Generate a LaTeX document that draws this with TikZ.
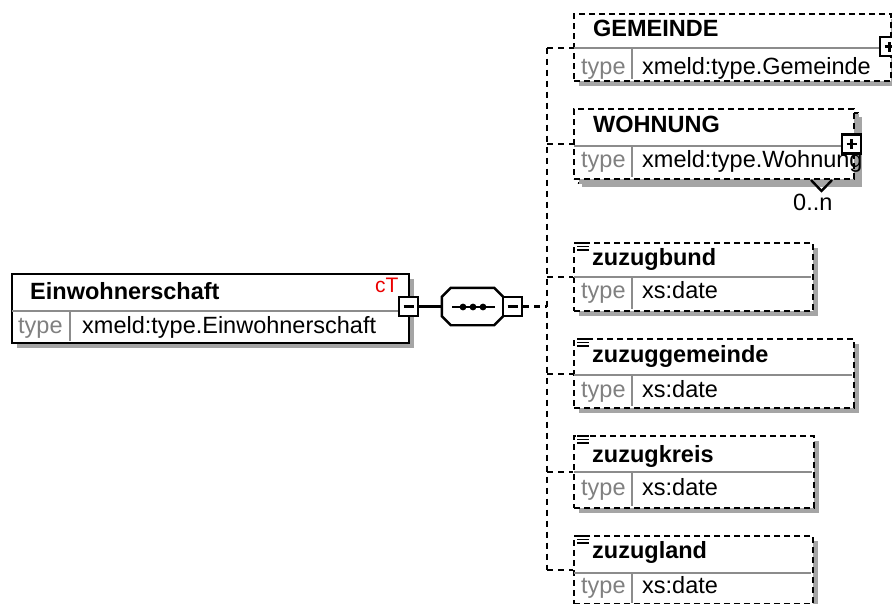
\documentclass[tikz,border=0pt]{standalone}
\usepackage{fontspec}
\setmainfont{Liberation Sans}
\usetikzlibrary{shadows}
\definecolor{shd}{RGB}{165,165,165}
\definecolor{grl}{RGB}{140,140,140}
\definecolor{typ}{RGB}{128,128,128}
\definecolor{ctred}{RGB}{235,0,0}
\begin{document}
\begin{tikzpicture}[x=1pt,y=-1pt,
  elbox/.style={draw=black, line width=2.4pt, fill=white, rectangle, inner sep=0pt, anchor=north west,
    general shadow={fill=shd, shadow xshift=5pt, shadow yshift=-5pt}},
  optbox/.style={elbox, dash pattern=on 6pt off 4pt},
  backbox/.style={draw=black, line width=2.4pt, fill=white, rectangle, inner sep=0pt, anchor=north west,
    dash pattern=on 6pt off 4pt, general shadow={fill=shd, shadow xshift=4pt, shadow yshift=-4pt}},
  divline/.style={draw=grl, line width=2.2pt},
  conn/.style={line width=2.4pt},
  dconn/.style={line width=2.4pt, dash pattern=on 6pt off 5pt},
  pmbox/.style={draw=black, line width=2.4pt, fill=white, rectangle, minimum size=19pt, inner sep=0pt},
  ttl/.style={anchor=base west, inner sep=0pt, font=\bfseries\fontsize{23.5}{28}\selectfont},
  tlab/.style={anchor=base west, inner sep=0pt, text=typ, font=\fontsize{23.5}{28}\selectfont},
  tval/.style={anchor=base west, inner sep=0pt, font=\fontsize{23.5}{28}\selectfont},
  small/.style={anchor=base west, inner sep=0pt, font=\fontsize{21}{24}\selectfont},
  icon/.style={line width=1.6pt}
]
\useasboundingbox (0,0) rectangle (892,603);

% ---------- Einwohnerschaft ----------
\node[elbox, minimum width=397pt, minimum height=69pt] (ein) at (11,273) {};
\draw[divline] (12,311) -- (407,311);
\draw[divline] (70,312) -- (70,341);
\node[ttl] (einname) at (30,299) {Einwohnerschaft};
\node[small, text=ctred] (ct) at (375,292) {cT};
\node[tlab] (eintype) at (18,333) {type};
\node[tval] (einval) at (82,333) {xmeld:type.Einwohnerschaft};
\node[pmbox] (einminus) at (408.5,306.5) {};
\draw[line width=2.4pt] ([xshift=-5pt]einminus.center) -- ([xshift=5pt]einminus.center);

% ---------- sequence compositor ----------
\node[rectangle, minimum width=61pt, minimum height=37pt, inner sep=0pt] (seq) at (472.5,306.5) {};
\fill[shd, shift={(5,5)}] ([xshift=9pt]seq.north west) -- ([xshift=-9pt]seq.north east)
  -- ([yshift=-9pt]seq.north east) -- ([yshift=9pt]seq.south east) -- ([xshift=-9pt]seq.south east)
  -- ([xshift=9pt]seq.south west) -- ([yshift=9pt]seq.south west) -- ([yshift=-9pt]seq.north west) -- cycle;
\draw[line width=2.4pt, fill=white] ([xshift=9pt]seq.north west) -- ([xshift=-9pt]seq.north east)
  -- ([yshift=-9pt]seq.north east) -- ([yshift=9pt]seq.south east) -- ([xshift=-9pt]seq.south east)
  -- ([xshift=9pt]seq.south west) -- ([yshift=9pt]seq.south west) -- ([yshift=-9pt]seq.north west) -- cycle;
\draw[line width=2.4pt] (452,307) -- (495,307);
\fill (463,307) circle (3.4pt) (473,307) circle (3.4pt) (483,307) circle (3.4pt);
\node[pmbox] (seqminus) at (512.5,306.5) {};
\draw[line width=2.4pt] ([xshift=-5pt]seqminus.center) -- ([xshift=5pt]seqminus.center);
\draw[conn] (einminus.east) -- (seq.west);

% ---------- GEMEINDE ----------
\node[optbox, minimum width=317pt, minimum height=67pt] (gem) at (573,13) {};
\draw[divline] (574,48) -- (889,48);
\draw[divline] (632,49) -- (632,79);
\node[ttl] (gemname) at (593,36) {GEMEINDE};
\node[tlab] (gemtype) at (581,74) {type};
\node[tval] (gemval) at (642,74) {xmeld:type.Gemeinde};
\node[pmbox] (gemplus) at (889.5,46.5) {};
\draw[line width=2.4pt] ([xshift=-5pt]gemplus.center) -- ([xshift=5pt]gemplus.center)
  ([yshift=-5pt]gemplus.center) -- ([yshift=5pt]gemplus.center);

% ---------- WOHNUNG ----------
\node[backbox, minimum width=280pt, minimum height=70pt] (wohback) at (577,112) {};
\node[optbox, general shadow={}, minimum width=280pt, minimum height=70pt] (woh) at (573,108) {};
\draw[divline] (574,146) -- (852,146);
\draw[divline] (632,147) -- (632,177);
\node[ttl] (wohname) at (593,132) {WOHNUNG};
\node[tlab] (wohtype) at (581,167) {type};
\node[tval] (wohval) at (642,167) {xmeld:type.Wohnung};
\node[pmbox] (wohplus) at (851.5,144) {};
\draw[line width=2.4pt] ([xshift=-5pt]wohplus.center) -- ([xshift=5pt]wohplus.center)
  ([yshift=-5pt]wohplus.center) -- ([yshift=5pt]wohplus.center);
\draw[line width=2.4pt] (811,180) -- (821.5,191) -- (832,180);
\node[tval] (wohocc) at (793,210) {0..n};

% ---------- zuzugbund ----------
\node[optbox, minimum width=239pt, minimum height=68pt] (bund) at (573,242) {};
\draw[divline] (574,277) -- (811,277);
\draw[divline] (632,278) -- (632,309);
\draw[icon] (577,243) -- (589,243) (577,246.5) -- (589,246.5) (577,250) -- (589,250);
\node[ttl] (bundname) at (592,265) {zuzugbund};
\node[tlab] (bundtype) at (581,298) {type};
\node[tval] (bundval) at (642,298) {xs:date};

% ---------- zuzuggemeinde ----------
\node[optbox, minimum width=280pt, minimum height=69pt] (gmd) at (573,338) {};
\draw[divline] (574,375) -- (852,375);
\draw[divline] (632,376) -- (632,406);
\draw[icon] (577,339) -- (589,339) (577,342.5) -- (589,342.5) (577,346) -- (589,346);
\node[ttl] (gmdname) at (592,362) {zuzuggemeinde};
\node[tlab] (gmdtype) at (581,397) {type};
\node[tval] (gmdval) at (642,397) {xs:date};

% ---------- zuzugkreis ----------
\node[optbox, minimum width=240pt, minimum height=72pt] (kreis) at (573,435) {};
\draw[divline] (574,472) -- (812,472);
\draw[divline] (632,473) -- (632,506);
\draw[icon] (577,436) -- (589,436) (577,439.5) -- (589,439.5) (577,443) -- (589,443);
\node[ttl] (kreisname) at (592,462) {zuzugkreis};
\node[tlab] (kreistype) at (581,495) {type};
\node[tval] (kreisval) at (642,495) {xs:date};

% ---------- zuzugland ----------
\node[optbox, minimum width=239pt, minimum height=68pt] (land) at (573,535) {};
\draw[divline] (574,573) -- (811,573);
\draw[divline] (632,574) -- (632,603);
\draw[icon] (577,536) -- (589,536) (577,539.5) -- (589,539.5) (577,543) -- (589,543);
\node[ttl] (landname) at (592,558) {zuzugland};
\node[tlab] (landtype) at (581,593) {type};
\node[tval] (landval) at (642,593) {xs:date};

% ---------- connectors ----------
\coordinate (trunk) at (547,306.5);
\draw[dconn] (seqminus.east) -- (trunk);
\draw[dconn] (trunk |- gem.west) -- (trunk |- land.west);
\draw[dconn] (trunk |- gem.west) -- (gem.west);
\draw[dconn] (trunk |- woh.west) -- (woh.west);
\draw[dconn] (trunk |- bund.west) -- (bund.west);
\draw[dconn] (trunk |- gmd.west) -- (gmd.west);
\draw[dconn] (trunk |- kreis.west) -- (kreis.west);
\draw[dconn] (trunk |- land.west) -- (land.west);
\end{tikzpicture}
\end{document}
